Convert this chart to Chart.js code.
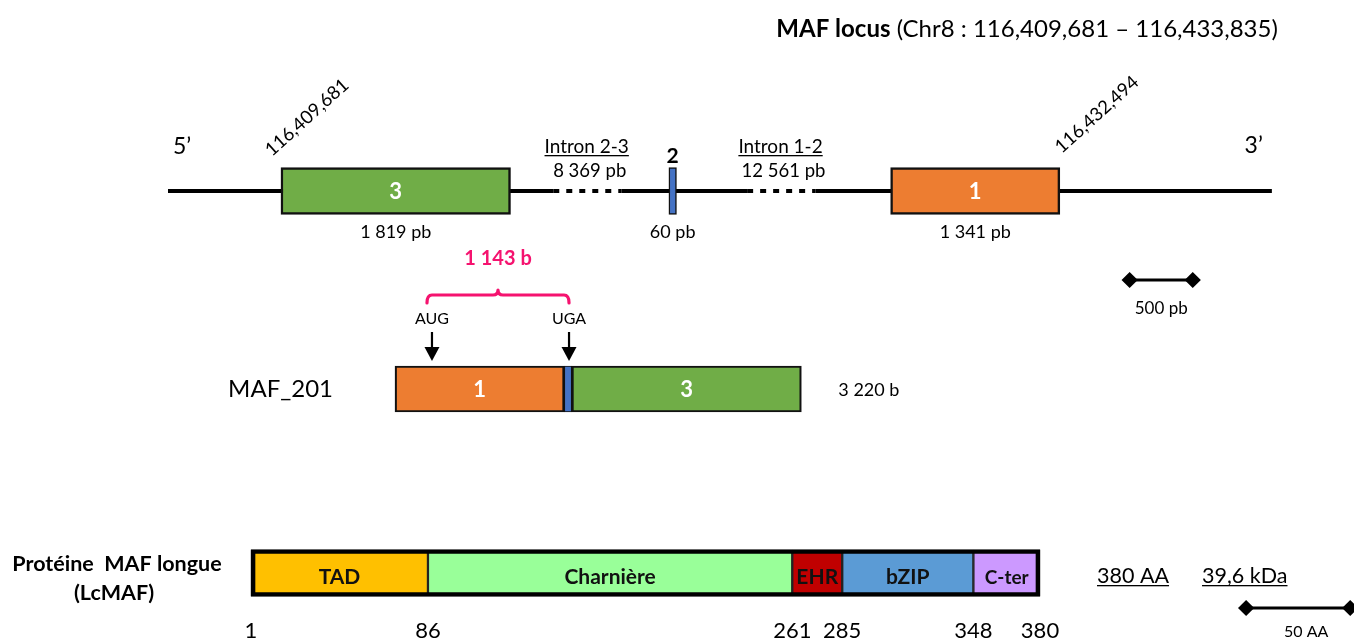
<!DOCTYPE html>
<html>
<head>
<meta charset="utf-8">
<script src="https://cdn.jsdelivr.net/npm/chart.js@4.4.0/dist/chart.umd.min.js"></script>
<style>
  html, body { margin: 0; padding: 0; background: #fff; }
  #wrap { width: 1354px; height: 640px; position: relative; }
</style>
</head>
<body>
<div id="wrap"><canvas id="chart"></canvas></div>
<script>
// ---- data ----
const locusTitle = ['MAF locus', ' (Chr8 : 116,409,681 \u2013 116,433,835)'];
const geneExons = ['3', '2', '1'];               // as drawn, left to right
const geneExonLen = [1819, 60, 1341];            // pb
const intronNames = ['Intron 2-3', 'Intron 1-2'];
const intronLen = [8369, 12561];                 // pb
const exonCoords = ['116,409,681', '116,432,494'];
const geneScaleBar = 500;                        // pb

const txName = 'MAF_201';
const txExons = ['1', '2', '3'];
const txExonLen = [1341, 60, 1819];              // b
const txLength = 3220;
const codons = ['AUG', 'UGA'];
const codonPos = [293, 1379];                    // b along the transcript (estimated)
const cdsLength = 1143;

const protName = ['Prot\u00e9ine  MAF longue', '(LcMAF)'];
const protDomains = ['TAD', 'Charni\u00e8re', 'EHR', 'bZIP', 'C-ter'];
const protBounds = [1, 86, 261, 285, 348, 380];
const protInfo = ['380 AA', '39,6 kDa'];
const protScaleBar = 50;                         // AA

// ---- layout ----
const W = 1354, H = 640;
const PX_PER_B = 0.1262;       // drawing scale of gene and transcript
const PX_PER_AA = 2.0818;
const ROW = { gene: 191, tx: 389, prot: 573 };
const GENE_LEFT = 168, TX_LEFT = 395, PROT_LEFT = 251;
const FLANK = [895, 1680];                       // drawn flanks (pb-like units)
const INTRON_SHOWN = [1255, 1697];               // introns drawn compressed
const INTRON_BREAK = [[0.27, 0.70], [0.33, 0.65]];
const GENE_BAR_AT = 7620, PROT_BAR_AT = 479;
const PINK = '#F5136F';
const exonColor = { '1': '#ED7D31', '2': '#4472C4', '3': '#70AD47' };
const domainColor = ['#FFC000', '#99FF99', '#C00000', '#5B9BD5', '#CC99FF'];
const FONT = 'Lato';

// gene track segments
const geneSegs = [];
let pos = 0;
const addSeg = (kind, len, i) => { geneSegs.push({ kind, i, start: pos, end: pos + len }); pos += len; };
addSeg('flank', FLANK[0]);
geneExonLen.forEach((len, i) => {
  addSeg('exon', len, i);
  if (i < intronLen.length) addSeg('intron', INTRON_SHOWN[i], i);
});
addSeg('flank', FLANK[1]);
const geneEnd = pos;

const backboneX = [];
const dottedSeg = new Set();
geneSegs.forEach(s => {
  if (!backboneX.length) backboneX.push(s.start);
  if (s.kind === 'intron') {
    const [a, b] = INTRON_BREAK[s.i], L = s.end - s.start;
    backboneX.push(s.start + a * L);
    dottedSeg.add(backboneX.length - 1);
    backboneX.push(s.start + b * L);
  }
  backboneX.push(s.end);
});
const geneExonSegs = geneSegs.filter(s => s.kind === 'exon');

// transcript segments
let t = 0;
const txSegs = txExonLen.map((len, i) => { const s = { i, start: t, end: t + len }; t += len; return s; });

const range = (leftPx, leftVal, k) => ({ min: leftVal - leftPx / k, max: leftVal + (W - leftPx) / k });

const fmt = n => String(n).replace(/\B(?=(\d{3})+(?!\d))/g, ' ');

function txt(ctx, s, x, y, font, color, align, base) {
  ctx.font = font;
  ctx.fillStyle = color || '#000';
  ctx.textAlign = align || 'center';
  ctx.textBaseline = base || 'alphabetic';
  ctx.fillText(s, x, y);
  return ctx.measureText(s).width;
}
function underlined(ctx, s, x, y, font, align) {
  const w = txt(ctx, s, x, y, font, '#000', align);
  const x0 = align === 'left' ? x : align === 'right' ? x - w : x - w / 2;
  ctx.fillRect(x0, y + 2, w, 1.3);
  return w;
}
function arrow(ctx, x, y0, y1) {
  ctx.strokeStyle = '#000'; ctx.fillStyle = '#000'; ctx.lineWidth = 2.2;
  ctx.beginPath(); ctx.moveTo(x, y0); ctx.lineTo(x, y1 - 12); ctx.stroke();
  ctx.beginPath(); ctx.moveTo(x - 7.5, y1 - 14); ctx.lineTo(x + 7.5, y1 - 14); ctx.lineTo(x, y1); ctx.closePath(); ctx.fill();
}
function brace(ctx, x0, x1, yb, color) {
  const xm = (x0 + x1) / 2, r = 5;
  ctx.strokeStyle = color; ctx.lineWidth = 3.2; ctx.lineCap = 'round'; ctx.lineJoin = 'round';
  ctx.beginPath();
  ctx.moveTo(x0, yb + 8);
  ctx.quadraticCurveTo(x0, yb, x0 + r, yb);
  ctx.lineTo(xm - r, yb);
  ctx.quadraticCurveTo(xm, yb, xm, yb - 5);
  ctx.quadraticCurveTo(xm, yb, xm + r, yb);
  ctx.lineTo(x1 - r, yb);
  ctx.quadraticCurveTo(x1, yb, x1, yb + 8);
  ctx.stroke();
  ctx.lineCap = 'butt';
}

const annotate = {
  id: 'annotate',
  afterDatasetsDraw(chart) {
    const { ctx, scales: { y, xGene, xTx, xProt } } = chart;
    ctx.save();

    // gene
    const gy = y.getPixelForValue(ROW.gene);
    const gL = xGene.getPixelForValue(0), gR = xGene.getPixelForValue(geneEnd);
    ctx.font = '24px ' + FONT;
    const w2 = ctx.measureText(locusTitle[1]).width;
    txt(ctx, locusTitle[1], gR + 6, 37, '24px ' + FONT, '#000', 'right');
    txt(ctx, locusTitle[0], gR + 6 - w2, 37, 'bold 24px ' + FONT, '#000', 'right');
    txt(ctx, '5\u2019', gL + 5, gy - 37, '23px ' + FONT, '#000', 'left');
    txt(ctx, '3\u2019', gR - 9, gy - 38, '23px ' + FONT, '#000', 'right');

    geneExonSegs.forEach(s => {
      const x0 = xGene.getPixelForValue(s.start), x1 = xGene.getPixelForValue(s.end), xm = (x0 + x1) / 2;
      if (x1 - x0 > 20) txt(ctx, geneExons[s.i], xm, gy + 8, 'bold 22px ' + FONT, '#fff');
      else txt(ctx, geneExons[s.i], xm, gy - 28, 'bold 21px ' + FONT);
      txt(ctx, fmt(geneExonLen[s.i]) + ' pb', xm, gy + 47, '18px ' + FONT);
    });
    geneSegs.filter(s => s.kind === 'intron').forEach(s => {
      const xm = xGene.getPixelForValue((s.start + s.end) / 2);
      underlined(ctx, intronNames[s.i], xm - 3, gy - 38, '19px ' + FONT, 'center');
      txt(ctx, fmt(intronLen[s.i]) + ' pb', xm, gy - 14, '18.5px ' + FONT);
    });
    const rot = (s, x, yy) => {
      ctx.save(); ctx.translate(x, yy); ctx.rotate(-42 * Math.PI / 180);
      txt(ctx, s, 0, 0, '18.5px ' + FONT, '#000', 'left');
      ctx.restore();
    };
    const first = geneExonSegs[0], last = geneExonSegs[geneExonSegs.length - 1];
    rot(exonCoords[0], xGene.getPixelForValue(first.start) - 9, gy - 34);
    rot(exonCoords[1], xGene.getPixelForValue(last.end) + 2, gy - 37);
    txt(ctx, geneScaleBar + ' pb', xGene.getPixelForValue(GENE_BAR_AT + geneScaleBar / 2), gy + 123, '17px ' + FONT);

    // transcript
    const ty = y.getPixelForValue(ROW.tx);
    txSegs.forEach(s => {
      const x0 = xTx.getPixelForValue(s.start), x1 = xTx.getPixelForValue(s.end);
      if (x1 - x0 > 20) txt(ctx, txExons[s.i], (x0 + x1) / 2, ty + 8, 'bold 22px ' + FONT, '#fff');
    });
    txt(ctx, txName, xTx.getPixelForValue(0) - 62, ty + 8, '24px ' + FONT, '#000', 'right');
    txt(ctx, fmt(txLength) + ' b', xTx.getPixelForValue(txLength) + 37, ty + 7, '18px ' + FONT, '#000', 'left');
    const cx = codonPos.map(v => xTx.getPixelForValue(v));
    cx.forEach((x, i) => {
      txt(ctx, codons[i], x, ty - 65, '16px ' + FONT);
      arrow(ctx, x, ty - 57, ty - 28);
    });
    brace(ctx, cx[0] - 5, cx[1], ty - 94, PINK);
    txt(ctx, fmt(cdsLength) + ' b', (cx[0] - 5 + cx[1]) / 2, ty - 124, 'bold 20px ' + FONT, PINK);

    // protein
    const py = y.getPixelForValue(ROW.prot);
    protDomains.forEach((d, i) => {
      const xm = (xProt.getPixelForValue(protBounds[i]) + xProt.getPixelForValue(protBounds[i + 1])) / 2;
      txt(ctx, d, xm, py + 11, (i === protDomains.length - 1 ? 'bold 19px ' : 'bold 21px ') + FONT, '#111');
    });
    protBounds.forEach(b => txt(ctx, String(b), xProt.getPixelForValue(b), py + 65, '22px ' + FONT));
    txt(ctx, protName[0], PROT_LEFT - 134, py - 2, 'bold 21.5px ' + FONT);
    txt(ctx, protName[1], PROT_LEFT - 137, py + 27, 'bold 21.5px ' + FONT);
    const xi = xProt.getPixelForValue(protBounds[protBounds.length - 1]) + 57;
    const wi = underlined(ctx, protInfo[0], xi, py + 10, '21.5px ' + FONT, 'left');
    underlined(ctx, protInfo[1], xi + wi + 33, py + 10, '21.5px ' + FONT, 'left');
    txt(ctx, protScaleBar + ' AA', xProt.getPixelForValue(PROT_BAR_AT + protScaleBar / 2) + 8, py + 64, '16px ' + FONT);

    ctx.restore();
  }
};

const barBase = {
  type: 'bar', indexAxis: 'y', yAxisID: 'y', grouped: false,
  borderSkipped: false, borderColor: '#111', order: 1
};
const hidden = { type: 'linear', display: false, offset: false, bounds: 'data' };

new Chart(document.getElementById('chart'), {
  type: 'bar',
  data: {
    datasets: [
      {
        type: 'line', xAxisID: 'xGene', yAxisID: 'y', order: 10,
        data: backboneX.map(x => ({ x, y: ROW.gene })),
        borderColor: '#000', borderWidth: 4, pointRadius: 0, borderCapStyle: 'butt',
        segment: { borderDash: c => dottedSeg.has(c.p0DataIndex) ? [6, 7] : undefined }
      },
      Object.assign({}, barBase, {
        xAxisID: 'xGene', barThickness: 47,
        data: geneExonSegs.map(s => ({ x: [s.start, s.end], y: ROW.gene })),
        backgroundColor: geneExonSegs.map(s => exonColor[geneExons[s.i]]),
        borderWidth: geneExonSegs.map(s => geneExonLen[s.i] < 200 ? 1.5 : 2.5)
      }),
      Object.assign({}, barBase, {
        xAxisID: 'xTx', barThickness: 46,
        data: txSegs.map(s => ({ x: [s.start, s.end], y: ROW.tx })),
        backgroundColor: txSegs.map(s => exonColor[txExons[s.i]]),
        borderWidth: txSegs.map(s => txExonLen[s.i] < 200 ? 1.2 : 2.2)
      }),
      Object.assign({}, barBase, {
        xAxisID: 'xProt', barThickness: 46,
        data: protDomains.map((d, i) => ({ x: [protBounds[i], protBounds[i + 1]], y: ROW.prot })),
        backgroundColor: domainColor, borderWidth: 1.5, borderColor: '#222'
      }),
      Object.assign({}, barBase, {
        xAxisID: 'xProt', barThickness: 47, order: 0,
        data: [{ x: [protBounds[0], protBounds[protBounds.length - 1]], y: ROW.prot }],
        backgroundColor: 'rgba(0,0,0,0)', borderWidth: 4, borderColor: '#000'
      }),
      {
        type: 'line', xAxisID: 'xGene', yAxisID: 'y', order: 2,
        data: [GENE_BAR_AT, GENE_BAR_AT + geneScaleBar].map(x => ({ x, y: ROW.gene + 89 })),
        borderColor: '#000', borderWidth: 3, pointStyle: 'rectRot', pointRadius: 6,
        pointBackgroundColor: '#000', pointBorderColor: '#000'
      },
      {
        type: 'line', xAxisID: 'xProt', yAxisID: 'y', order: 2,
        data: [PROT_BAR_AT, PROT_BAR_AT + protScaleBar].map(x => ({ x, y: ROW.prot + 35 })),
        borderColor: '#000', borderWidth: 3, pointStyle: 'rectRot', pointRadius: 6,
        pointBackgroundColor: '#000', pointBorderColor: '#000'
      }
    ]
  },
  options: {
    responsive: true,
    maintainAspectRatio: false,
    animation: false,
    events: [],
    layout: { padding: 0, autoPadding: false },
    plugins: { legend: { display: false }, tooltip: { enabled: false } },
    scales: {
      x: Object.assign({}, hidden),
      y: Object.assign({}, hidden, { min: 0, max: H, reverse: true }),
      xGene: Object.assign({}, hidden, { axis: 'x' }, range(GENE_LEFT, 0, PX_PER_B)),
      xTx: Object.assign({}, hidden, { axis: 'x' }, range(TX_LEFT, 0, PX_PER_B)),
      xProt: Object.assign({}, hidden, { axis: 'x' }, range(PROT_LEFT, protBounds[0], PX_PER_AA))
    }
  },
  plugins: [annotate]
});
</script>
</body>
</html>
